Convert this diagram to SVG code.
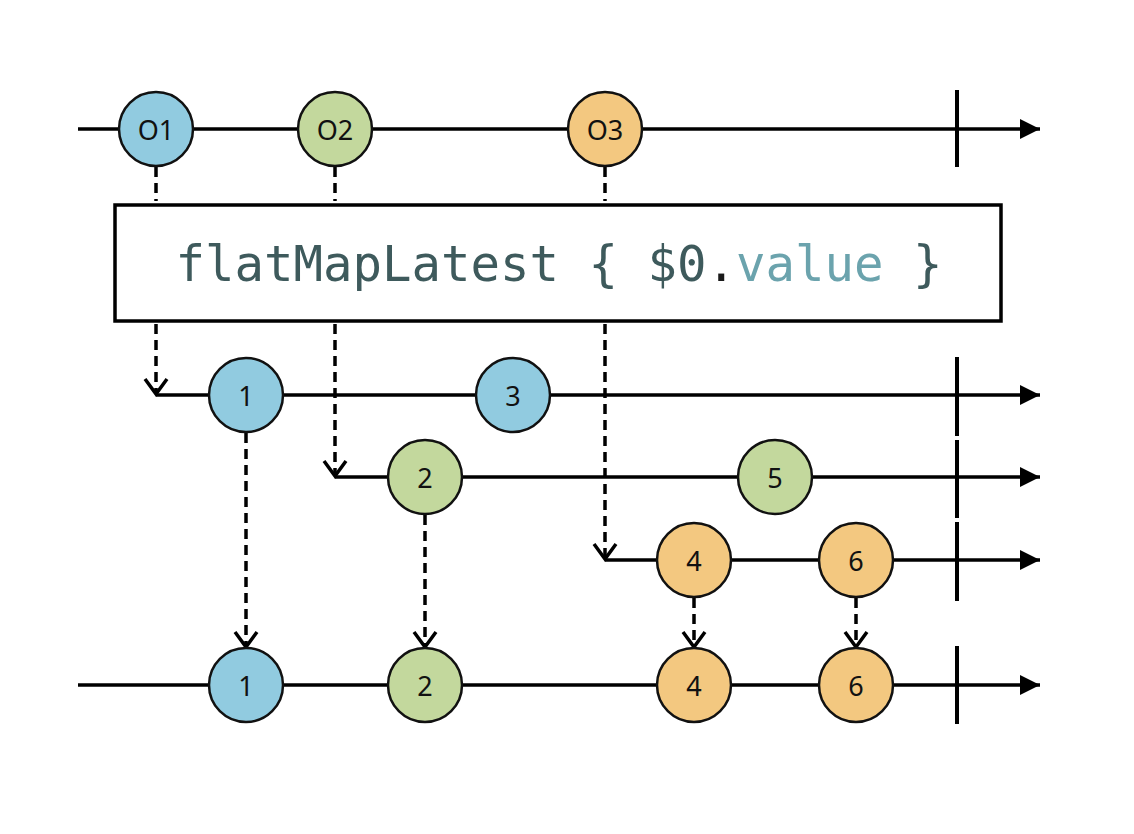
<svg xmlns="http://www.w3.org/2000/svg" width="1134" height="834" viewBox="0 0 1134 834">
<style>
.line{stroke:#000;stroke-width:3.5;fill:none}
.term{stroke:#000;stroke-width:4}
.dash{stroke:#000;stroke-width:3.5;fill:none;stroke-dasharray:10 6}
.blue{fill:#91cbe0;stroke:#111;stroke-width:2.5}
.green{fill:#c3d89d;stroke:#111;stroke-width:2.5}
.orange{fill:#f3c880;stroke:#111;stroke-width:2.5}
.lbl{font-family:"Gill Sans","Noto Sans","Liberation Sans",sans-serif;font-size:27px;fill:#111;text-anchor:middle;dominant-baseline:central}
.code{font-family:"DejaVu Sans Mono","Liberation Mono",monospace;font-size:49px}
</style>
<defs>
<marker id="arr" markerUnits="userSpaceOnUse" viewBox="0 0 20 20" refX="20" refY="10" markerWidth="20" markerHeight="20" orient="auto">
<path d="M0,0 L20,10 L0,20 z" fill="#000"/>
</marker>
<marker id="chev" markerUnits="userSpaceOnUse" viewBox="0 0 20 26" refX="17" refY="13" markerWidth="20" markerHeight="26" orient="auto">
<path d="M2,2 L17,13 L2,24" fill="none" stroke="#000" stroke-width="3.5" stroke-dasharray="none"/>
</marker>
</defs>
<rect width="1134" height="834" fill="#fff"/>

<g id="connectors">
<line class="line" x1="78" y1="129" x2="1040" y2="129" marker-end="url(#arr)"/>
<line class="line" x1="156" y1="395" x2="1040" y2="395" marker-end="url(#arr)"/>
<line class="line" x1="335" y1="477" x2="1040" y2="477" marker-end="url(#arr)"/>
<line class="line" x1="605" y1="560" x2="1040" y2="560" marker-end="url(#arr)"/>
<line class="line" x1="78" y1="685" x2="1040" y2="685" marker-end="url(#arr)"/>
<line class="term" x1="957" y1="90" x2="957" y2="167"/>
<line class="term" x1="957" y1="357" x2="957" y2="436"/>
<line class="term" x1="957" y1="440" x2="957" y2="518"/>
<line class="term" x1="957" y1="522" x2="957" y2="601"/>
<line class="term" x1="957" y1="646" x2="957" y2="724"/>
<line class="dash" x1="156" y1="167" x2="156" y2="201"/>
<line class="dash" x1="335" y1="167" x2="335" y2="201"/>
<line class="dash" x1="605" y1="167" x2="605" y2="201"/>
<line class="dash" x1="156" y1="324" x2="156" y2="394" marker-end="url(#chev)"/>
<line class="dash" x1="335" y1="324" x2="335" y2="476" marker-end="url(#chev)"/>
<line class="dash" x1="605" y1="324" x2="605" y2="559" marker-end="url(#chev)"/>
<line class="dash" x1="246" y1="433" x2="246" y2="647" marker-end="url(#chev)"/>
<line class="dash" x1="425" y1="515" x2="425" y2="647" marker-end="url(#chev)"/>
<line class="dash" x1="694" y1="598" x2="694" y2="647" marker-end="url(#chev)"/>
<line class="dash" x1="856" y1="598" x2="856" y2="647" marker-end="url(#chev)"/>
</g>

<g id="operator">
<rect x="115" y="205" width="886" height="116" fill="#fff" stroke="#000" stroke-width="3.5"/>
<text class="code" x="559" y="281" text-anchor="middle"><tspan fill="#3e5a5c">flatMapLatest { $0</tspan><tspan fill="#1a1a1a">.</tspan><tspan fill="#6ba3ad">value</tspan><tspan fill="#3e5a5c"> }</tspan></text>
</g>

<g id="o1"><circle class="blue" cx="156" cy="129" r="37"/><text class="lbl" x="156" y="129">O1</text></g>
<g id="o2"><circle class="green" cx="335" cy="129" r="37"/><text class="lbl" x="335" y="129">O2</text></g>
<g id="o3"><circle class="orange" cx="605" cy="129" r="37"/><text class="lbl" x="605" y="129">O3</text></g>

<g id="i1"><circle class="blue" cx="246" cy="395" r="37"/><text class="lbl" x="246" y="395">1</text></g>
<g id="i3"><circle class="blue" cx="513" cy="395" r="37"/><text class="lbl" x="513" y="395">3</text></g>
<g id="i2"><circle class="green" cx="425" cy="477" r="37"/><text class="lbl" x="425" y="477">2</text></g>
<g id="i5"><circle class="green" cx="775" cy="477" r="37"/><text class="lbl" x="775" y="477">5</text></g>
<g id="i4"><circle class="orange" cx="694" cy="560" r="37"/><text class="lbl" x="694" y="560">4</text></g>
<g id="i6"><circle class="orange" cx="856" cy="560" r="37"/><text class="lbl" x="856" y="560">6</text></g>

<g id="r1"><circle class="blue" cx="246" cy="685" r="37"/><text class="lbl" x="246" y="685">1</text></g>
<g id="r2"><circle class="green" cx="425" cy="685" r="37"/><text class="lbl" x="425" y="685">2</text></g>
<g id="r4"><circle class="orange" cx="694" cy="685" r="37"/><text class="lbl" x="694" y="685">4</text></g>
<g id="r6"><circle class="orange" cx="856" cy="685" r="37"/><text class="lbl" x="856" y="685">6</text></g>
</svg>
